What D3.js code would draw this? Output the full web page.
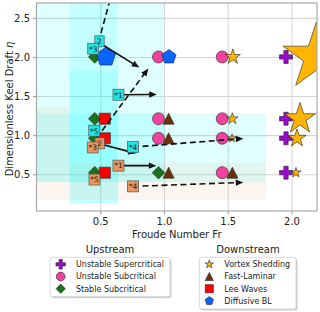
<!DOCTYPE html>
<html><head><meta charset="utf-8">
<script src="https://cdn.jsdelivr.net/npm/d3@7"></script>
<style>
body{margin:0;background:#fff;}
svg{display:block;font-family:"DejaVu Sans",sans-serif;}
</style>
</head><body>
<svg id="chart" width="320" height="312"></svg>
<script>
// ---------- data ----------
const xTicks = [0.5, 1.0, 1.5, 2.0];
const yTicks = [0.5, 1.0, 1.5, 2.0, 2.5];

// experiment cases (Froude number, keel draft)
const caseFr  = [0.5, 0.5, 0.5, 0.5, 1.0, 1.0, 1.0, 1.0, 1.5, 1.5, 1.5, 1.5, 2.0, 2.0, 2.0, 2.0];
const caseEta = [2.0, 1.21, 0.96, 0.52, 2.0, 1.21, 0.96, 0.52, 2.0, 1.21, 0.96, 0.52, 2.0, 1.21, 0.96, 0.52];
const upstreamRegime = [
  "Stable Subcritical", "Stable Subcritical", "Stable Subcritical", "Stable Subcritical",
  "Unstable Subcritical", "Unstable Subcritical", "Unstable Subcritical", "Stable Subcritical",
  "Unstable Subcritical", "Unstable Subcritical", "Unstable Subcritical", "Unstable Subcritical",
  "Unstable Supercritical", "Unstable Supercritical", "Unstable Supercritical", "Unstable Supercritical"];
const downstreamRegime = [
  "Diffusive BL", "Lee Waves", "Lee Waves", "Lee Waves",
  "Diffusive BL", "Fast-Laminar", "Fast-Laminar", "Fast-Laminar",
  "Vortex Shedding", "Vortex Shedding", "Vortex Shedding", "Fast-Laminar",
  "Vortex Shedding", "Vortex Shedding", "Vortex Shedding", "Vortex Shedding"];
const downstreamMagnitude = [2.8, 1, 1, 1, 1.55, 1, 1, 1, 1.75, 1, 0.55, 1, 34, 7.4, 2.5, 0.78];

// literature annotations
const noteText  = ["2", "*3", "*1", "*5", "*4", "2", "*3", "*1", "*5", "*4"];
const noteGroup = ["cyan", "cyan", "cyan", "cyan", "cyan", "salmon", "salmon", "salmon", "salmon", "salmon"];
const noteFr    = [0.494, 0.445, 0.643, 0.453, 0.757, 0.496, 0.441, 0.643, 0.455, 0.757];
const noteEta   = [2.20, 2.105, 1.517, 1.057, 0.847, 0.895, 0.843, 0.61, 0.432, 0.345];

// arrows between parameter points
const arrowFr0  = [0.486, 0.486, 0.643, 0.757, 0.47, 0.494, 0.643, 0.757];
const arrowEta0 = [2.188, 2.188, 1.517, 0.847, 0.96, 0.891, 0.61, 0.345];
const arrowFr1  = [0.605, 0.806, 0.943, 1.622, 0.877, 0.78, 0.94, 1.622];
const arrowEta1 = [2.9, 1.865, 1.52, 0.958, 1.852, 0.766, 0.61, 0.396];
const arrowDashed = [true, false, false, true, true, false, false, true];

// parameter-range regions
const regionGroup = ["cyan", "cyan", "cyan", "cyan", "salmon", "salmon"];
const regionFr0  = [0, 0.26, 0.26, 0, 0, 0];
const regionFr1  = [1.0, 0.64, 0.64, 1.8, 1.8, 0.26];
const regionEta0 = [0.40, 0.13, 0.13, 0.40, 0.17, 0.65];
const regionEta1 = [2.69, 2.69, 1.83, 1.28, 0.65, 1.36];

const upstreamLegend = ["Unstable Supercritical", "Unstable Subcritical", "Stable Subcritical"];
const downstreamLegend = ["Vortex Shedding", "Fast-Laminar", "Lee Waves", "Diffusive BL"];

// ---------- styles ----------
const style = {
  "Unstable Supercritical": {shape: "plus", fill: "#9a0bd0", k: 1.08},
  "Unstable Subcritical":   {shape: "circle", fill: "#f2429d", k: 1.0},
  "Stable Subcritical":     {shape: "diamond", fill: "#17731a", k: 1.05},
  "Vortex Shedding":        {shape: "star", fill: "#ffb400", k: 1.0},
  "Fast-Laminar":           {shape: "triangle", fill: "#6a3206", k: 0.92},
  "Lee Waves":              {shape: "square", fill: "#ff0000", k: 0.92},
  "Diffusive BL":           {shape: "pentagon", fill: "#0a64ff", k: 1.0}
};
const groupColor = {cyan: "#00ffff", salmon: "#f0a070"};
const groupBox = {cyan: "#1fe6e6", salmon: "#e9955f"};

function shapePath(shape, R) {
  const pts = [];
  if (shape === "circle") {
    return `M${R},0A${R},${R} 0 1,1 ${-R},0A${R},${R} 0 1,1 ${R},0Z`;
  } else if (shape === "square") {
    pts.push([-R,-R],[R,-R],[R,R],[-R,R]);
  } else if (shape === "diamond") {
    pts.push([0,-R],[R,0],[0,R],[-R,0]);
  } else if (shape === "triangle") {
    pts.push([0,-R],[R,R],[-R,R]);
  } else if (shape === "plus") {
    const a = R/3;
    pts.push([-a,-R],[a,-R],[a,-a],[R,-a],[R,a],[a,a],[a,R],[-a,R],[-a,a],[-R,a],[-R,-a],[-a,-a]);
  } else if (shape === "pentagon") {
    for (let i = 0; i < 5; i++) {
      const t = -Math.PI/2 + i*2*Math.PI/5;
      pts.push([R*Math.cos(t), R*Math.sin(t)]);
    }
  } else if (shape === "star") {
    for (let i = 0; i < 10; i++) {
      const t = -Math.PI/2 + i*Math.PI/5;
      const r = i % 2 === 0 ? R : R*0.381966;
      pts.push([r*Math.cos(t), r*Math.sin(t)]);
    }
  }
  return "M" + pts.map(p => p[0].toFixed(2) + "," + p[1].toFixed(2)).join("L") + "Z";
}

// ---------- layout ----------
const svg = d3.select("#chart");
const W = 320, H = 312;
const plot = {left: 36.5, right: 317, top: 3, bottom: 211};
const x = d3.scaleLinear().domain([0, 2.2]).range([plot.left, plot.right]);
const y = d3.scaleLinear().domain([0.03, 2.69]).range([plot.bottom, plot.top]);
const unit = 6;
const sizeScale = d3.scaleSqrt().domain([0, 1]).range([0, unit]);
const textColor = "#222";

svg.append("rect").attr("width", W).attr("height", H).attr("fill", "#fff");

svg.append("defs").append("clipPath").attr("id", "clip")
  .append("rect").attr("x", plot.left).attr("y", plot.top)
  .attr("width", plot.right - plot.left).attr("height", plot.bottom - plot.top);

// grid
const gx = svg.append("g").attr("transform", `translate(0,${plot.bottom})`)
  .call(d3.axisBottom(x).tickValues(xTicks).tickSize(-(plot.bottom - plot.top)).tickFormat(""));
const gy = svg.append("g").attr("transform", `translate(${plot.left},0)`)
  .call(d3.axisLeft(y).tickValues(yTicks).tickSize(-(plot.right - plot.left)).tickFormat(""));
[gx, gy].forEach(g => {
  g.select(".domain").remove();
  g.selectAll("line").attr("stroke", "#d6d6d6").attr("stroke-width", 1.1);
});

const body = svg.append("g").attr("clip-path", "url(#clip)");

// regions
body.selectAll("rect.region").data(regionGroup.map((g, i) => i)).enter()
  .append("rect").attr("class", "region")
  .attr("x", i => x(regionFr0[i]))
  .attr("y", i => y(regionEta1[i]))
  .attr("width", i => x(regionFr1[i]) - x(regionFr0[i]))
  .attr("height", i => y(regionEta0[i]) - y(regionEta1[i]))
  .attr("fill", i => groupColor[regionGroup[i]])
  .attr("fill-opacity", i => regionGroup[i] === "cyan" ? 0.12 : 0.11);

// markers
const idx = caseFr.map((d, i) => i);
body.selectAll("path.up").data(idx).enter().append("path").attr("class", "up")
  .attr("d", i => { const s = style[upstreamRegime[i]]; return shapePath(s.shape, unit * s.k); })
  .attr("transform", i => `translate(${x(caseFr[i]) - 5.5},${y(caseEta[i])})`)
  .attr("fill", i => style[upstreamRegime[i]].fill)
  .attr("stroke", "#222").attr("stroke-width", 0.6);

body.selectAll("path.down").data(idx).enter().append("path").attr("class", "down")
  .attr("d", i => { const s = style[downstreamRegime[i]]; return shapePath(s.shape, sizeScale(downstreamMagnitude[i]) * s.k); })
  .attr("transform", i => {
    const R = sizeScale(downstreamMagnitude[i]);
    return `translate(${x(caseFr[i]) + 4 + 0.017 * R * R},${y(caseEta[i])})`;
  })
  .attr("fill", i => style[downstreamRegime[i]].fill)
  .attr("stroke", "#222").attr("stroke-width", 0.6);

// arrows
const arrowIdx = arrowFr0.map((d, i) => i);
body.selectAll("line.arrow").data(arrowIdx).enter().append("line").attr("class", "arrow")
  .attr("x1", i => x(arrowFr0[i])).attr("y1", i => y(arrowEta0[i]))
  .attr("x2", i => {
    const dx = x(arrowFr1[i]) - x(arrowFr0[i]), dy = y(arrowEta1[i]) - y(arrowEta0[i]);
    const L = Math.hypot(dx, dy); return x(arrowFr1[i]) - dx / L * 6;
  })
  .attr("y2", i => {
    const dx = x(arrowFr1[i]) - x(arrowFr0[i]), dy = y(arrowEta1[i]) - y(arrowEta0[i]);
    const L = Math.hypot(dx, dy); return y(arrowEta1[i]) - dy / L * 6;
  })
  .attr("stroke", "#111").attr("stroke-width", 1.6)
  .attr("stroke-dasharray", i => arrowDashed[i] ? "6,3.5" : null);
body.selectAll("path.head").data(arrowIdx).enter().append("path").attr("class", "head")
  .attr("d", i => {
    const x1 = x(arrowFr1[i]), y1 = y(arrowEta1[i]);
    const dx = x1 - x(arrowFr0[i]), dy = y1 - y(arrowEta0[i]);
    const L = Math.hypot(dx, dy), ux = dx / L, uy = dy / L;
    const bx = x1 - ux * 7.5, by = y1 - uy * 7.5;
    return `M${x1},${y1}L${bx - uy * 3.2},${by + ux * 3.2}L${bx + uy * 3.2},${by - ux * 3.2}Z`;
  })
  .attr("fill", "#111");

// notes
const noteIdx = noteText.map((d, i) => i);
const notes = svg.selectAll("g.note").data(noteIdx).enter().append("g").attr("class", "note")
  .attr("transform", i => `translate(${x(noteFr[i])},${y(noteEta[i])})`);
notes.append("rect")
  .attr("x", i => noteText[i].length > 1 ? -5.5 : -4.7)
  .attr("y", -5.5)
  .attr("width", i => noteText[i].length > 1 ? 11 : 9.4)
  .attr("height", 11)
  .attr("fill", i => groupBox[noteGroup[i]])
  .attr("stroke", "#555").attr("stroke-width", 0.7);
notes.append("text").text(i => noteText[i])
  .attr("text-anchor", "middle").attr("y", 2.8)
  .attr("font-size", 7.5).attr("fill", "#222");

// spines
svg.append("rect").attr("x", plot.left).attr("y", plot.top)
  .attr("width", plot.right - plot.left).attr("height", plot.bottom - plot.top)
  .attr("fill", "none").attr("stroke", "#a8a8a8").attr("stroke-width", 1.2);

// axes ticks & labels
const ax = svg.append("g").attr("transform", `translate(0,${plot.bottom})`)
  .call(d3.axisBottom(x).tickValues(xTicks).tickSize(3.5).tickPadding(3).tickFormat(d3.format(".1f")));
const ay = svg.append("g").attr("transform", `translate(${plot.left},0)`)
  .call(d3.axisLeft(y).tickValues(yTicks).tickSize(3.5).tickPadding(3).tickFormat(d3.format(".1f")));
[ax, ay].forEach(g => {
  g.select(".domain").remove();
  g.selectAll("line").attr("stroke", "#999");
  g.selectAll("text").attr("font-size", 10).attr("fill", textColor).attr("font-family", "DejaVu Sans");
});

svg.append("text").attr("x", (plot.left + plot.right) / 2).attr("y", 237.5)
  .attr("text-anchor", "middle").attr("font-size", 10).attr("fill", textColor)
  .text("Froude Number Fr");
svg.append("text").attr("transform", `translate(13,${(plot.top + plot.bottom) / 2 + 2}) rotate(-90)`)
  .attr("text-anchor", "middle").attr("font-size", 10).attr("fill", textColor)
  .html('Dimensionless Keel Draft <tspan font-style="italic">η</tspan>');

// legends
function legend(title, items, cx, box, rowY0, markerX, textX) {
  const g = svg.append("g");
  g.append("text").attr("x", cx).attr("y", 252.5).attr("text-anchor", "middle")
    .attr("font-size", 10).attr("fill", textColor).text(title);
  g.append("rect").attr("x", box[0] + 1.5).attr("y", box[1] + 1.5)
    .attr("width", box[2] - box[0]).attr("height", box[3] - box[1])
    .attr("rx", 2).attr("fill", "#000").attr("fill-opacity", 0.2);
  g.append("rect").attr("x", box[0]).attr("y", box[1])
    .attr("width", box[2] - box[0]).attr("height", box[3] - box[1])
    .attr("rx", 2).attr("fill", "#fff").attr("stroke", "#d0d0d0").attr("stroke-width", 0.8);
  items.forEach((name, k) => {
    const s = style[name];
    const yy = rowY0 + k * 12.2;
    g.append("path").attr("d", shapePath(s.shape, 4.4 * s.k))
      .attr("transform", `translate(${markerX},${yy})`)
      .attr("fill", s.fill).attr("stroke", "#222").attr("stroke-width", 0.6);
    g.append("text").attr("x", textX).attr("y", yy + 2.9)
      .attr("font-size", 8).attr("fill", textColor).text(name);
  });
}
legend("Upstream", upstreamLegend, 110, [50, 257.3, 170, 296.7], 264.3, 60.7, 76);
legend("Downstream", downstreamLegend, 248, [199.3, 257.3, 296, 309], 264.3, 209.3, 224.3);
</script>
</body></html>
